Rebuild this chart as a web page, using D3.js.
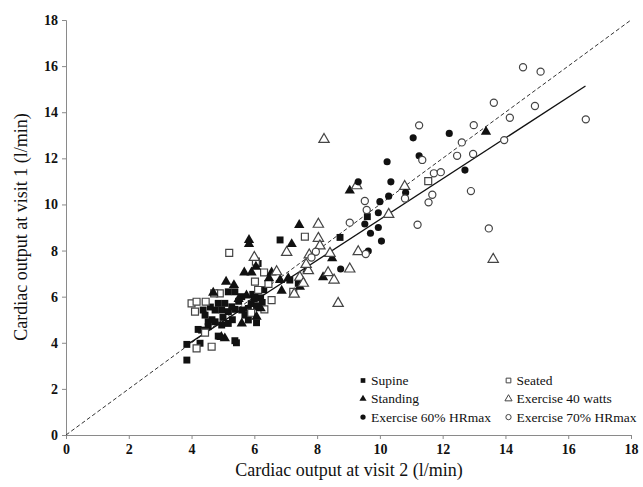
<!DOCTYPE html>
<html lang="en">
<head>
  <meta charset="utf-8">
  <title>Cardiac output visit 1 vs visit 2</title>
  <script src="https://d3js.org/d3.v7.min.js"></script>
  <style>
    body { margin: 0; background: #fff; }
    text { font-family: 'Liberation Serif', 'Times New Roman', serif; fill: #111; }
    .tick text { font-size: 14px; font-weight: bold; }
    .axis path, .axis line { stroke: #8a8a8a; }
    .legend text { font-size: 13.5px; }
  </style>
</head>
<body>
<script>
  // [visit 2, visit 1] in l/min
  const supine = [
    [3.85, 3.25], [3.85, 3.93], [4.27, 3.98], [4.21, 4.58], [4.32, 4.55], [4.53, 4.7], [4.53, 4.91],
    [4.75, 4.91], [4.96, 4.77], [5.17, 4.84], [4.85, 4.29], [5.38, 4.09], [5.43, 4.0], [4.37, 5.42],
    [4.43, 5.2], [4.75, 5.42], [4.96, 5.42], [5.17, 5.35], [5.38, 5.45], [5.6, 5.42], [5.81, 5.49],
    [4.85, 5.71], [5.06, 5.71], [5.28, 5.56], [5.17, 6.21], [5.38, 6.21], [5.81, 4.99], [6.07, 4.87],
    [6.12, 7.44], [6.82, 8.46], [7.13, 6.72], [7.4, 6.58], [8.73, 8.57], [9.6, 9.47], [5.0, 5.1],
    [5.5, 5.8], [5.7, 5.2], [5.9, 5.7], [6.0, 5.9], [6.2, 5.95], [6.3, 6.3], [5.6, 6.0], [4.65, 5.0],
    [5.3, 5.0], [6.1, 5.6], [5.95, 6.1], [4.6, 5.55], [6.25, 5.75], [6.02, 5.98], [6.07, 5.56]
  ];
  const seated = [
    [5.2, 7.9], [6.05, 7.52], [7.61, 8.6], [6.31, 7.05], [6.02, 6.65], [6.12, 6.29], [6.55, 5.85],
    [6.32, 5.45], [4.9, 6.14], [4.72, 6.14], [4.0, 5.71], [4.16, 5.78], [4.45, 5.78], [4.11, 5.35],
    [4.43, 4.44], [4.16, 3.76], [4.64, 3.83], [7.24, 6.21], [11.54, 11.01], [5.9, 5.3], [6.45, 6.55]
  ];
  const standing = [
    [5.83, 8.46], [5.83, 8.28], [7.19, 8.28], [7.43, 9.11], [6.05, 7.3], [5.68, 7.05], [5.91, 7.05],
    [6.55, 7.05], [6.82, 6.72], [7.08, 6.8], [6.87, 6.26], [7.45, 6.43], [6.47, 6.8], [7.69, 7.18],
    [8.19, 6.84], [8.48, 7.66], [9.04, 10.6], [13.38, 13.15], [5.1, 6.65], [4.69, 6.17], [6.07, 5.13],
    [5.6, 4.84], [5.06, 4.19], [4.95, 4.25], [5.5, 5.9], [5.75, 6.05], [6.2, 5.5], [5.35, 6.5]
  ];
  const ex40 = [
    [8.22, 12.82], [9.26, 10.81], [10.79, 10.78], [10.28, 9.57], [8.04, 9.14], [8.04, 8.53], [8.09, 8.2],
    [9.31, 7.95], [8.41, 7.88], [9.04, 7.2], [8.35, 7.04], [8.54, 6.72], [8.67, 5.71], [13.61, 7.62],
    [7.03, 7.92], [7.75, 7.81], [6.71, 7.08], [7.72, 7.13], [7.45, 6.84], [7.56, 6.58], [7.27, 6.11],
    [6.0, 7.7], [7.65, 7.4]
  ];
  const ex60 = [
    [11.06, 12.89], [12.21, 13.08], [11.25, 12.11], [12.71, 11.49], [10.82, 10.51], [9.31, 10.98],
    [10.35, 10.98], [10.28, 10.36], [10.23, 11.85], [10.0, 10.12], [9.95, 9.64], [9.52, 9.15],
    [9.7, 8.75], [9.95, 9.0], [10.05, 8.41], [9.63, 7.98], [8.75, 7.2]
  ];
  const ex70 = [
    [14.56, 15.95], [15.12, 15.76], [13.63, 14.41], [14.94, 14.27], [14.14, 13.76], [12.99, 13.44],
    [13.96, 12.79], [12.97, 12.19], [12.9, 10.58], [13.47, 8.96], [16.56, 13.69], [11.25, 13.43],
    [12.61, 12.69], [11.35, 11.93], [12.46, 12.11], [11.72, 11.35], [11.94, 11.4], [10.8, 10.26],
    [11.67, 10.42], [11.55, 10.09], [11.2, 9.12], [9.52, 10.15], [9.58, 9.76], [9.04, 9.21],
    [9.55, 7.85], [7.96, 7.95], [7.82, 7.7]
  ];

  const tickValues = [0, 2, 4, 6, 8, 10, 12, 14, 16, 18];
  const identity = [0, 18];
  const regSlope = 0.884, regIntercept = 0.505, regRange = [3.8, 16.55];

  const series = [
    { name: "Supine", data: supine, shape: d3.symbolSquare, filled: true },
    { name: "Seated", data: seated, shape: d3.symbolSquare, filled: false },
    { name: "Standing", data: standing, shape: d3.symbolTriangle, filled: true },
    { name: "Exercise 40 watts", data: ex40, shape: d3.symbolTriangle, filled: false },
    { name: "Exercise 60% HRmax", data: ex60, shape: d3.symbolCircle, filled: true },
    { name: "Exercise 70% HRmax", data: ex70, shape: d3.symbolCircle, filled: false }
  ];

  const width = 643, height = 487;
  const x = d3.scaleLinear().domain([0, 18]).range([66, 631]);
  const y = d3.scaleLinear().domain([0, 18]).range([435, 20]);

  const svg = d3.select("body").append("svg")
      .attr("width", width)
      .attr("height", height);

  svg.append("g")
      .attr("class", "axis")
      .attr("transform", `translate(0,${y(0)})`)
      .call(d3.axisBottom(x).tickValues(tickValues).tickSize(4).tickPadding(2).tickFormat(d3.format("d")))
      .call(g => g.selectAll(".tick text").attr("dy", "0.95em"));

  svg.append("g")
      .attr("class", "axis")
      .attr("transform", `translate(${x(0)},0)`)
      .call(d3.axisLeft(y).tickValues(tickValues).tickSize(4).tickPadding(4).tickFormat(d3.format("d")));

  svg.selectAll(".domain").attr("stroke", "#8a8a8a");

  // line of identity
  svg.append("line")
      .attr("x1", x(identity[0])).attr("y1", y(identity[0]))
      .attr("x2", x(identity[1])).attr("y2", y(identity[1]))
      .attr("stroke", "#333")
      .attr("stroke-width", 1)
      .attr("stroke-dasharray", "4,2.5");

  // regression line
  svg.append("line")
      .attr("x1", x(regRange[0])).attr("y1", y(regSlope * regRange[0] + regIntercept))
      .attr("x2", x(regRange[1])).attr("y2", y(regSlope * regRange[1] + regIntercept))
      .attr("stroke", "#111")
      .attr("stroke-width", 1.3);

  const sizeFor = s => s === d3.symbolSquare ? 48 : (s === d3.symbolCircle ? 40 : 46);

  series.forEach(s => {
    svg.append("g").selectAll("path")
      .data(s.data)
      .join("path")
        .attr("transform", d => `translate(${x(d[0])},${y(d[1])})`)
        .attr("d", d3.symbol().type(s.shape).size(sizeFor(s.shape)))
        .attr("fill", s.filled ? "#111" : "#fff")
        .attr("stroke", s.filled ? "none" : "#444")
        .attr("stroke-width", 1.2);
  });

  // legend
  const legend = svg.append("g").attr("class", "legend");
  series.forEach((s, i) => {
    const col = i % 2, row = Math.floor(i / 2);
    const lx = col === 0 ? 363 : 508.5;
    const ly = 380.5 + row * 18.3;
    legend.append("path")
        .attr("transform", `translate(${lx},${ly})`)
        .attr("d", d3.symbol().type(s.shape).size(22))
        .attr("fill", s.filled ? "#111" : "#fff")
        .attr("stroke", s.filled ? "none" : "#444")
        .attr("stroke-width", 1);
    legend.append("text")
        .attr("x", lx + 8)
        .attr("y", ly + 4.5)
        .text(s.name);
  });

  svg.append("text")
      .attr("x", 349)
      .attr("y", 476)
      .attr("text-anchor", "middle")
      .attr("font-size", "18px")
      .text("Cardiac output at visit 2 (l/min)");

  svg.append("text")
      .attr("transform", `translate(27,227) rotate(-90)`)
      .attr("text-anchor", "middle")
      .attr("font-size", "18px")
      .text("Cardiac output at visit 1 (l/min)");
</script>
</body>
</html>
